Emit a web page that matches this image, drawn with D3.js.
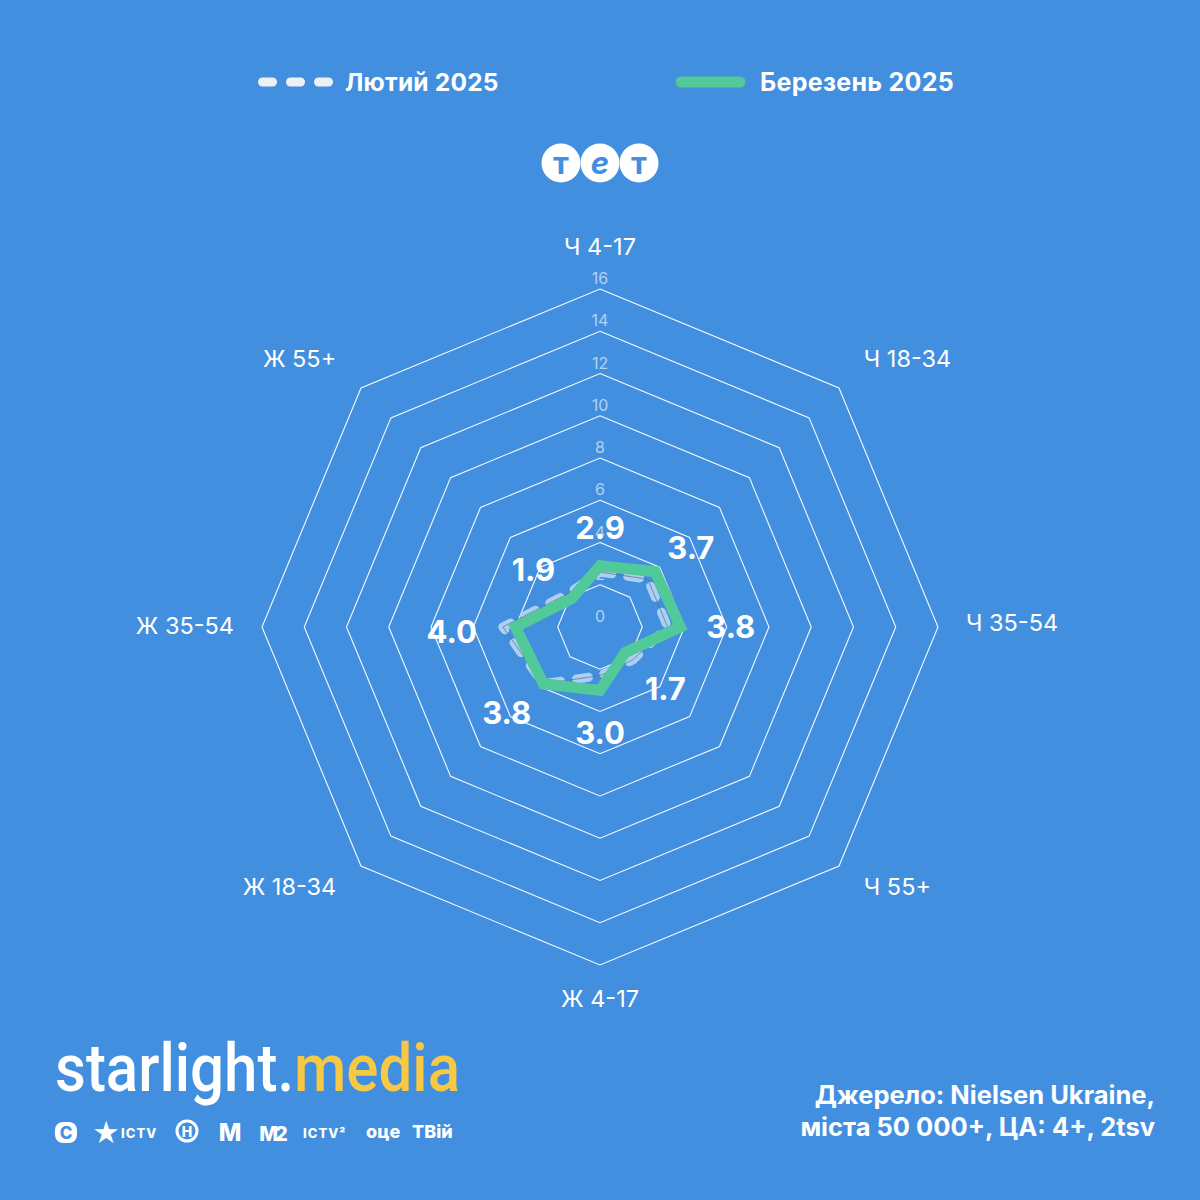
<!DOCTYPE html>
<html><head><meta charset="utf-8">
<script src="https://cdn.jsdelivr.net/npm/d3@7"></script>
<style>html,body{margin:0;padding:0;background:#428fe0;} svg{display:block}</style>
</head><body>
<svg id="c" width="1200" height="1200"></svg>
<script>
const categories = ["Ч 4-17","Ч 18-34","Ч 35-54","Ч 55+","Ж 4-17","Ж 18-34","Ж 35-54","Ж 55+"];
const febValues = [2.6, 3.2, 3.2, 2.2, 2.3, 3.8, 4.6, 2.2];
const marValues = [2.9, 3.7, 3.8, 1.7, 3.0, 3.8, 4.0, 1.9];
const tickValues = [0, 2, 4, 6, 8, 10, 12, 14, 16];
const seriesNames = ["Лютий 2025", "Березень 2025"];
const sourceLines = ["Джерело: Nielsen Ukraine,", "міста 50 000+, ЦА: 4+, 2tsv"];
const channelNames = ["С", "★ ICTV", "Н", "М", "М2", "ICTV²", "оце", "ТВій"];

const W = 1200, H = 1200, cx = 600, cy = 627;
const BG = "#428fe0", GREEN = "#52c999", DASH = "#accff4";
const FONT = "Inter, 'Noto Sans', sans-serif";
const svg = d3.select("#c");
svg.append("rect").attr("width", W).attr("height", H).attr("fill", BG);

const n = categories.length;
const r = d3.scaleLinear().domain([0, 16]).range([0, 338]);
const ang = i => i * 2 * Math.PI / n;
const radial = d3.lineRadial().angle((d, i) => ang(i)).radius(d => r(d)).curve(d3.curveLinearClosed);

const g = svg.append("g").attr("transform", `translate(${cx},${cy})`);

// grid rings
g.selectAll("path.ring").data(tickValues.filter(t => t > 0)).join("path")
  .attr("class", "ring")
  .attr("d", t => radial(categories.map(() => t)))
  .attr("fill", "none").attr("stroke", "#ffffff").attr("stroke-width", 1.1).attr("stroke-opacity", 0.95);

// tick labels
g.selectAll("text.tick").data(tickValues).join("text")
  .attr("class", "tick")
  .attr("x", 0).attr("y", t => -r(t) - 5)
  .attr("text-anchor", "middle")
  .attr("font-family", FONT).attr("font-size", 16)
  .attr("fill", "#ffffff").attr("fill-opacity", 0.6)
  .text(t => t);

// axis labels
g.selectAll("text.cat").data(categories).join("text")
  .attr("class", "cat")
  .each(function (d, i) {
    const a = ang(i), sx = Math.sin(a), cyy = Math.cos(a);
    const R = 366 + 10 * Math.abs(cyy);
    const x = R * sx, y = -R * cyy - 4 + (cyy < -0.5 ? 0 : (cyy < 0 ? 3 : 0));
    d3.select(this).attr("x", x).attr("y", y + 8)
      .attr("text-anchor", Math.abs(sx) < 1e-6 ? "middle" : (sx > 0 ? "start" : "end"));
  })
  .attr("font-family", FONT).attr("font-size", 23.5).attr("fill", "#ffffff")
  .text(d => d);

// February dashed series
g.append("path").attr("d", radial(febValues))
  .attr("fill", "none").attr("stroke", DASH).attr("stroke-width", 9)
  .attr("stroke-dasharray", "12 16").attr("stroke-linecap", "round").attr("stroke-linejoin", "round");
g.append("path").attr("d", radial(febValues))
  .attr("fill", "none").attr("stroke", "#5a6f8c").attr("stroke-width", 1).attr("stroke-opacity", 0.7);

// March solid series
g.append("path").attr("d", radial(marValues))
  .attr("fill", "none").attr("stroke", GREEN).attr("stroke-width", 11)
  .attr("stroke-linejoin", "miter");

// value labels
const vl = g.selectAll("text.val").data(marValues).join("text")
  .attr("class", "val")
  .attr("font-family", FONT).attr("font-size", 31).attr("font-weight", 700)
  .attr("fill", "#ffffff").attr("text-anchor", "middle")
  .text(d => d.toFixed(1));
vl.each(function (d, i) {
  const a = ang(i), dx = Math.sin(a), dy = -Math.cos(a);
  const pr = r(Math.max(d, febValues[i]));
  const w = this.getComputedTextLength(), h = 24;
  const diag = Math.abs(dx) > 1e-6 && Math.abs(dy) > 1e-6;
  const off = diag ? 17 : 26;
  let x = pr * dx + off * dx, y = pr * dy + off * dy;
  if (Math.abs(dx) > 1e-6) x += Math.sign(dx) * w / 2;
  if (Math.abs(dy) > 1e-6) y += Math.sign(dy) * h / 2;
  if (dy > 0) y += 5;
  d3.select(this).attr("x", x).attr("y", y + 11);
});

// legend
const lg = svg.append("g");
[0, 1, 2].forEach(k => {
  lg.append("rect").attr("x", 258 + k * 28).attr("y", 77.5).attr("width", 19).attr("height", 9)
    .attr("rx", 4.5).attr("fill", "#eef1f4");
});
lg.append("text").attr("x", 345).attr("y", 91).attr("font-family", FONT).attr("font-size", 24.5)
  .attr("font-weight", 700).attr("fill", "#ffffff").attr("letter-spacing", 0.2).text(seriesNames[0]);
lg.append("line").attr("x1", 681).attr("x2", 740).attr("y1", 82).attr("y2", 82)
  .attr("stroke", GREEN).attr("stroke-width", 11).attr("stroke-linecap", "round");
lg.append("text").attr("x", 760).attr("y", 91).attr("font-family", FONT).attr("font-size", 25)
  .attr("font-weight", 700).attr("fill", "#ffffff").attr("letter-spacing", 0.3).text(seriesNames[1]);

// TET logo
const logo = svg.append("g");
[["т", 561], ["е", 600], ["т", 639]].forEach(([ch, x]) => {
  logo.append("circle").attr("cx", x).attr("cy", 163).attr("r", 19.5).attr("fill", "#ffffff");
  logo.append("text").attr("x", x).attr("y", 174).attr("text-anchor", "middle")
    .attr("font-family", FONT).attr("font-size", 31).attr("font-weight", 700)
    .attr("font-style", ch === "е" ? "italic" : "normal")
    .attr("fill", BG).text(ch);
});

// starlight.media logo
const sl = svg.append("text").attr("x", 0).attr("y", 0)
  .attr("font-family", "Roboto, Inter, sans-serif").attr("font-size", 66).attr("font-weight", 500);
sl.append("tspan").attr("fill", "#ffffff").text("starlight");
sl.append("tspan").attr("fill", "#ffffff").text(".");
sl.append("tspan").attr("fill", "#f7c843").text("media");
const slw = sl.node().getComputedTextLength();
sl.attr("transform", `translate(55,1091) scale(${405 / slw},1)`);

// channel icons row
const ch = svg.append("g").attr("font-family", FONT).attr("font-weight", 800).attr("fill", "#ffffff");
ch.append("rect").attr("x", 55).attr("y", 1122).attr("width", 22).attr("height", 21).attr("rx", 8).attr("fill", "#fff");
ch.append("text").attr("x", 66).attr("y", 1139).attr("text-anchor", "middle").attr("font-size", 17).attr("fill", BG).text(channelNames[0]);
ch.append("text").attr("x", 106).attr("y", 1143).attr("text-anchor", "middle").attr("font-size", 27).text("★");
ch.append("text").attr("x", 121).attr("y", 1138).attr("font-size", 13).attr("letter-spacing", 1).text("ICTV");
ch.append("circle").attr("cx", 187).attr("cy", 1131).attr("r", 10).attr("fill", "none").attr("stroke", "#fff").attr("stroke-width", 3);
ch.append("text").attr("x", 187).attr("y", 1137).attr("text-anchor", "middle").attr("font-size", 14).text(channelNames[2]);
ch.append("text").attr("x", 230).attr("y", 1141).attr("text-anchor", "middle").attr("font-size", 24).text(channelNames[3]);
ch.append("text").attr("x", 272).attr("y", 1141).attr("text-anchor", "middle").attr("font-size", 20).attr("letter-spacing", -3).text(channelNames[4]);
ch.append("text").attr("x", 303).attr("y", 1138).attr("font-size", 13).attr("letter-spacing", 1).text(channelNames[5]);
ch.append("text").attr("x", 366).attr("y", 1138).attr("font-size", 18).text(channelNames[6]);
ch.append("text").attr("x", 412).attr("y", 1138).attr("font-size", 18).text(channelNames[7]);

// source
svg.append("g").selectAll("text").data(sourceLines).join("text")
  .attr("x", 1155).attr("y", (d, i) => 1104 + i * 32).attr("text-anchor", "end")
  .attr("font-family", FONT).attr("font-size", 25.5).attr("font-weight", 700).attr("fill", "#ffffff")
  .text(d => d);
</script>
</body></html>
